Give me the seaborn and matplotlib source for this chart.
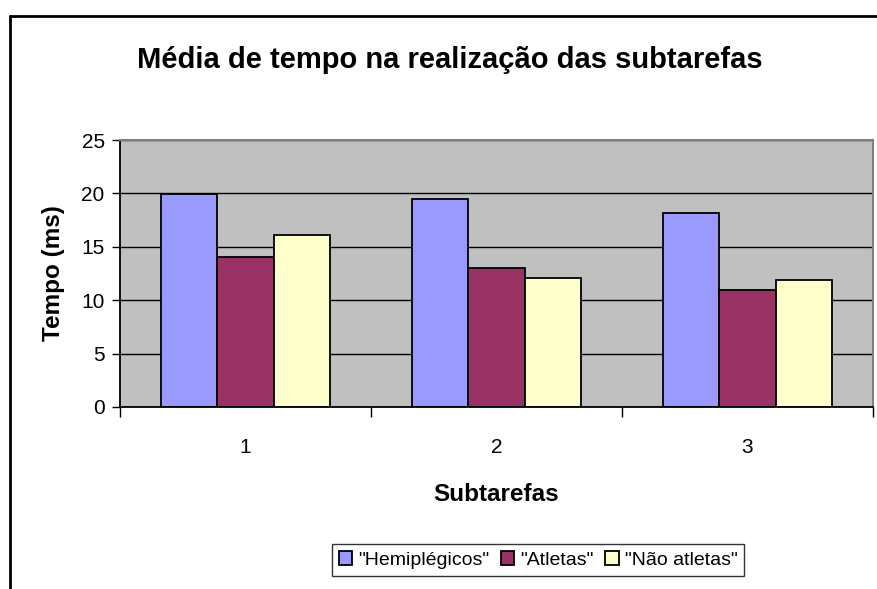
import numpy as np
import pandas as pd
import matplotlib
matplotlib.use("Agg")
import matplotlib.pyplot as plt
import seaborn as sns
from matplotlib.lines import Line2D

subtarefas = ["1", "2", "3"]
grupos = ['"Hemiplégicos"', '"Atletas"', '"Não atletas"']
hemiplegicos = [19.9, 19.5, 18.2]
atletas = [14.0, 13.0, 11.0]
nao_atletas = [16.1, 12.1, 11.9]
cores = ["#9999FF", "#993366", "#FFFFCC"]

df = pd.DataFrame({
    "Subtarefas": subtarefas * 3,
    "grupo": [g for g in grupos for _ in subtarefas],
    "tempo": hemiplegicos + atletas + nao_atletas,
})

sns.set_style("white")
plt.rcParams["font.family"] = ["Liberation Sans", "DejaVu Sans"]
plt.rcParams["text.color"] = "black"
plt.rcParams["axes.labelcolor"] = "black"
plt.rcParams["xtick.color"] = "black"
plt.rcParams["ytick.color"] = "black"

fig = plt.figure(figsize=(8.77, 5.89), dpi=100)
ax = fig.add_axes([120/877, 1-407/589, (873-120)/877, (407-140)/589])
ax.set_facecolor("#C0C0C0")

sns.barplot(data=df, x="Subtarefas", y="tempo", hue="grupo", palette=cores,
            saturation=1, width=0.67, edgecolor="black", linewidth=1.3,
            ax=ax, legend=True)

ax.set_ylim(0, 25)
ax.set_xlim(-0.5, 2.5)
ax.set_yticks([0, 5, 10, 15, 20, 25])
ax.yaxis.grid(True, color="black", linewidth=1)
ax.set_axisbelow(True)
ax.tick_params(axis="y", left=True, length=6, width=1, color="black",
               labelsize=15, pad=5)
ax.tick_params(axis="x", which="major", length=0, labelsize=15, pad=22)
ax.set_xticks([-0.5, 0.5, 1.5, 2.5], minor=True)
ax.tick_params(axis="x", which="minor", bottom=True, length=7, width=1, color="black")

for s in ["top", "right"]:
    ax.spines[s].set_color("#808080")
    ax.spines[s].set_linewidth(1.5)
for s in ["left", "bottom"]:
    ax.spines[s].set_color("black")
    ax.spines[s].set_linewidth(1.3)

ax.set_xlabel("Subtarefas", fontsize=17.5, fontweight="bold", labelpad=19)
ax.set_ylabel("Tempo (ms)", fontsize=17.5, fontweight="bold", labelpad=12)

fig.text(450/877, 1-60/589, "Média de tempo na realização das subtarefas",
         ha="center", va="center", fontsize=21, fontweight="bold")

handles, labels = ax.get_legend_handles_labels()
ax.get_legend().remove()
leg = fig.legend(handles, labels, loc="center", bbox_to_anchor=(538/877, 1-560/589),
                 ncol=3, fontsize=14, frameon=True, fancybox=False, edgecolor="black",
                 handlelength=0.7, handleheight=0.7, handletextpad=0.3,
                 columnspacing=0.6, borderpad=0.35, borderaxespad=0)
leg.get_frame().set_linewidth(1.0)

fig.add_artist(Line2D([10/877, 10/877], [0, 1-16/589], color="black", linewidth=2,
                      transform=fig.transFigure))
fig.add_artist(Line2D([10/877, 1], [1-16/589, 1-16/589], color="black", linewidth=2,
                      transform=fig.transFigure))

fig.savefig("out.png", dpi=100)
